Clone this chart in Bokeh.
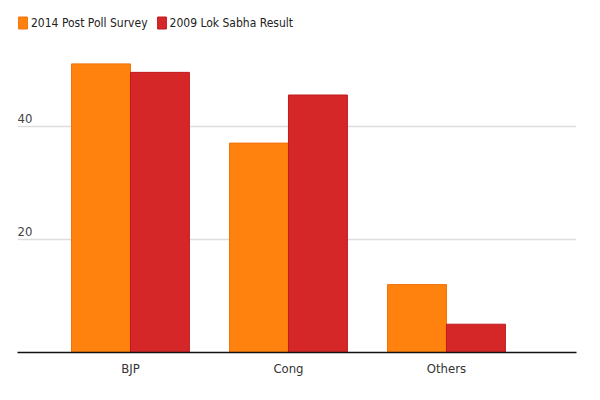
from bokeh.plotting import figure
from bokeh.models import ColumnDataSource, FixedTicker, Range1d, Legend, LegendItem
from bokeh.transform import dodge
from bokeh.core.properties import value
from bokeh.embed import file_html
from bokeh.resources import INLINE

categories = ["BJP", "Cong", "Others"]
series_names = ["2014 Post Poll Survey", "2009 Lok Sabha Result"]
survey_2014 = [51, 37, 12]
result_2009 = [49.5, 45.5, 5]
y_ticks = [20, 40]

FONT = "'DejaVu Sans Condensed', Roboto, sans-serif"

xs = list(range(len(categories)))
src = ColumnDataSource(dict(x=xs, cat=categories, s2014=survey_2014, s2009=result_2009))

p = figure(width=584, height=384, output_backend="svg", toolbar_location=None,
           x_range=Range1d(-0.715, 2.823), y_range=Range1d(0, 62.2),
           min_border_left=17, min_border_right=8, min_border_top=0, min_border_bottom=32)
p.outline_line_color = None
p.background_fill_color = "white"
p.border_fill_color = "white"

bw = 0.373
r1 = p.vbar(x=dodge("x", -bw / 2, range=p.x_range), top="s2014", width=bw, source=src,
            fill_color="#ff820e", line_color="#f07208", line_width=1)
r2 = p.vbar(x=dodge("x", bw / 2, range=p.x_range), top="s2009", width=bw, source=src,
            fill_color="#d62728", line_color="#bf1a1f", line_width=1)

# axes
p.yaxis.visible = False
p.xaxis.ticker = FixedTicker(ticks=xs)
p.xaxis.major_label_overrides = {i: c for i, c in zip(xs, categories)}
p.xaxis.major_tick_line_color = None
p.xaxis.minor_tick_line_color = None
p.xaxis.axis_line_color = "#111111"
p.xaxis.axis_line_width = 1.5
p.xaxis.major_label_standoff = 2
p.xaxis.major_label_text_font = FONT
p.xaxis.major_label_text_font_size = "13px"
p.xaxis.major_label_text_color = "#333333"

p.xgrid.visible = False
p.ygrid.ticker = FixedTicker(ticks=y_ticks)
p.ygrid.grid_line_color = "#dddddd"
p.ygrid.grid_line_width = 1.5

# y tick labels drawn inside plot above gridlines
lab_src = ColumnDataSource(dict(y=y_ticks, t=[str(v) for v in y_ticks],
                                x=[p.x_range.start] * len(y_ticks)))
p.text(x="x", y="y", text="t", source=lab_src, text_font=value(FONT),
       text_font_size="13px", text_color="#444444", text_baseline="bottom",
       text_align="left", x_offset=0, y_offset=-3)

legend = Legend(items=[LegendItem(label=series_names[0], renderers=[r1]),
                       LegendItem(label=series_names[1], renderers=[r2])],
                location=(0, 322), orientation="horizontal",
                glyph_width=11, glyph_height=15, label_height=15,
                label_standoff=3, spacing=8, padding=0, margin=0,
                border_line_color=None, background_fill_alpha=0,
                label_text_font=FONT, label_text_font_size="12px",
                label_text_color="#222222")
p.add_layout(legend, "center")

open("out.html", "w").write(file_html(p, INLINE))
